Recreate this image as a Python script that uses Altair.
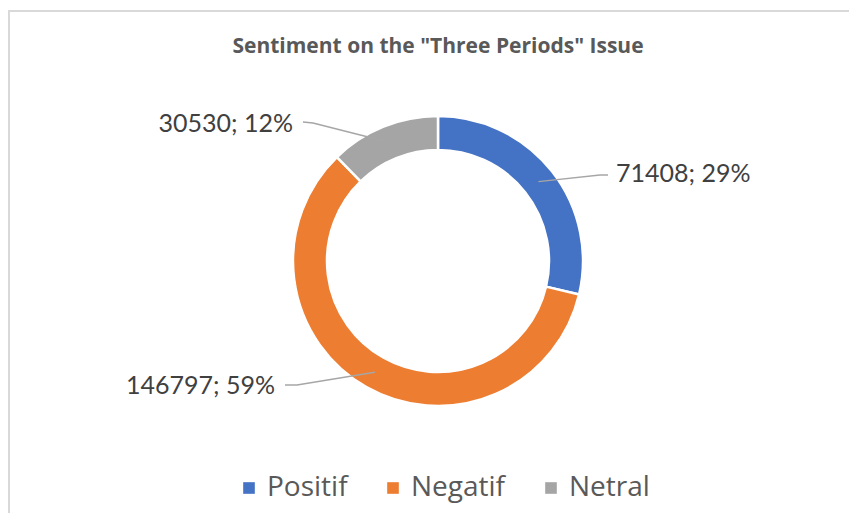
import math
import altair as alt
import pandas as pd

# ---- data ----
categories = ["Positif", "Negatif", "Netral"]
values = [71408, 146797, 30530]
colors = ["#4472C4", "#ED7D31", "#A5A5A5"]
title_text = 'Sentiment on the "Three Periods" Issue'

# ---- layout / style (plot-area pixel coordinates) ----
W, H = 841, 505
CX, CY = 430, 253
R_IN, R_OUT = 111, 145
R_MID = (R_IN + R_OUT) / 2
FONT = "Lato"
# per label: leader end point, elbow point, text anchor x, text y, align
label_layout = {
    "Positif": dict(end=(592, 167), elbow=(600, 167), tx=608, ty=166, align="left"),
    "Netral": dict(end=(305, 115), elbow=(295, 114), tx=285, ty=116, align="right"),
    "Negatif": dict(end=(289, 377), elbow=(277, 377), tx=267, ty=378, align="right"),
}

total = sum(values)
rows, line_rows = [], []
cum = 0
for i, (c, v) in enumerate(zip(categories, values)):
    mid = (cum + v / 2) / total * 2 * math.pi
    cum += v
    pct = round(v / total * 100)
    lay = label_layout[c]
    rows.append(dict(category=c, value=v, order=i, label=f"{v}; {pct}%",
                     tx=lay["tx"], ty=lay["ty"], align=lay["align"]))
    px = CX + R_MID * math.sin(mid)
    py = CY - R_MID * math.cos(mid)
    for s, (x, y) in enumerate([(px, py), lay["end"], lay["elbow"]]):
        line_rows.append(dict(category=c, seq=s, x=x, y=y))

df = pd.DataFrame(rows)
lines = pd.DataFrame(line_rows)

color_scale = alt.Scale(domain=categories, range=colors)

arcs = alt.Chart(df).mark_arc(
    innerRadius=R_IN, outerRadius=R_OUT, stroke="white", strokeWidth=2.5
).encode(
    theta=alt.Theta("value:Q", stack=True),
    order=alt.Order("order:Q"),
    color=alt.Color(
        "category:N", scale=color_scale, sort=categories,
        legend=alt.Legend(
            title=None, orient="none", direction="horizontal",
            legendX=227, legendY=466, symbolType="square", symbolSize=135,
            symbolStrokeWidth=0, labelFont="Open Sans", labelFontSize=28,
            labelColor="#595959", labelOffset=4, columnPadding=31, padding=0,
        ),
    ),
    x=alt.value(CX),
    y=alt.value(CY),
)

leaders = alt.Chart(lines).mark_line(color="#A6A6A6", strokeWidth=1.5).encode(
    x=alt.X("x:Q", scale=None, axis=None),
    y=alt.Y("y:Q", scale=None, axis=None),
    detail="category:N",
    order="seq:Q",
)

label_layers = []
for a in ["left", "right"]:
    label_layers.append(
        alt.Chart(df[df["align"] == a]).mark_text(
            font=FONT, fontSize=25, color="#404040", align=a, baseline="middle"
        ).encode(
            x=alt.X("tx:Q", scale=None, axis=None),
            y=alt.Y("ty:Q", scale=None, axis=None),
            text="label:N",
        )
    )

title = alt.Chart(pd.DataFrame({"t": [title_text]})).mark_text(
    font="Open Sans", fontSize=21, fontWeight="bold", color="#595959",
    baseline="alphabetic", align="center"
).encode(x=alt.value(430), y=alt.value(45), text="t:N")

border_v = alt.Chart(pd.DataFrame({"a": [0]})).mark_rule(
    color="#D9D9D9", strokeWidth=2
).encode(x=alt.value(1), y=alt.value(3), y2=alt.value(H))
border_h = alt.Chart(pd.DataFrame({"a": [0]})).mark_rule(
    color="#D9D9D9", strokeWidth=2
).encode(x=alt.value(0), x2=alt.value(W), y=alt.value(3))

chart = alt.layer(
    border_v, border_h, arcs, leaders, *label_layers, title
).properties(
    width=W, height=H, padding=0,
    autosize=alt.AutoSizeParams(type="none"),
).configure_view(stroke=None).resolve_scale(x="independent", y="independent")

chart.save("out.html", embed_options={"renderer": "svg", "actions": False})
